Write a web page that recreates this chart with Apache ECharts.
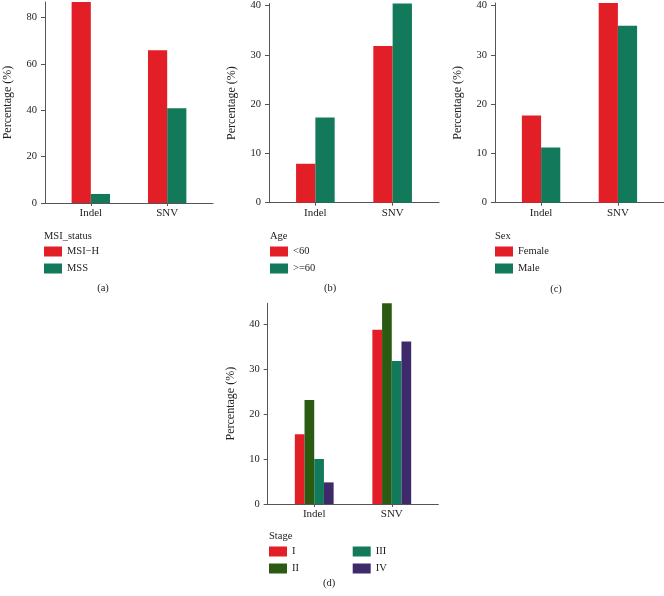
<!DOCTYPE html>
<html><head><meta charset="utf-8">
<script src="https://cdn.jsdelivr.net/npm/echarts@6/dist/echarts.min.js"></script>
<style>html,body{margin:0;padding:0;background:#fff}#c{width:664px;height:596px}</style>
</head><body><div id="c"></div>
<script>
const categories = ['Indel', 'SNV'];
// (a) MSI status
const msiNames = ['MSI\u2212H', 'MSS'];
const msiH = [86.7, 65.9];
const mss = [3.9, 40.9];
// (b) Age
const ageNames = ['<60', '>=60'];
const ageLt60 = [7.9, 31.8];
const ageGe60 = [17.3, 40.4];
// (c) Sex
const sexNames = ['Female', 'Male'];
const female = [17.7, 40.5];
const male = [11.2, 35.9];
// (d) Stage
const stageNames = ['I', 'II', 'III', 'IV'];
const stageI = [15.5, 38.7];
const stageII = [23.1, 44.6];
const stageIII = [10.0, 31.8];
const stageIV = [4.8, 36.1];
const yTicksA = 20, yTicksB = 10, yTicksC = 10, yTicksD = 10;

const RED = '#E21F26', TEAL = '#127A5B', DKGREEN = '#2B5B13', PURPLE = '#3E2A6A';
const FONT = 'Liberation Serif';
const AX = '#555';

const panels = [
  {grid:{left:45,top:2,width:168,height:201}, names:msiNames, data:[msiH,mss], colors:[RED,TEAL], bw:19.2, interval:yTicksA},
  {grid:{left:269,top:2.3,width:170,height:200.4}, names:ageNames, data:[ageLt60,ageGe60], colors:[RED,TEAL], bw:19.3, interval:yTicksB},
  {grid:{left:495,top:2.2,width:169,height:200.5}, names:sexNames, data:[female,male], colors:[RED,TEAL], bw:19.2, interval:yTicksC},
  {grid:{left:267.7,top:303.3,width:170.6,height:200.7}, names:stageNames, data:[stageI,stageII,stageIII,stageIV], colors:[RED,DKGREEN,TEAL,PURPLE], bw:9.7, interval:yTicksD}
];

const grid=[], xAxis=[], yAxis=[], series=[];
panels.forEach((p,i)=>{
  grid.push(p.grid);
  xAxis.push({type:'value', gridIndex:i, min:0.4, max:2.6,
    axisLine:{show:true, lineStyle:{color:AX,width:1}},
    axisTick:{show:true, length:3, customValues:[1,2], lineStyle:{color:AX}},
    axisLabel:{customValues:[1,2], formatter:v=>categories[Math.round(v)-1]||'', fontFamily:FONT, fontSize:11, color:'#222', margin:5},
    splitLine:{show:false}});
  yAxis.push({type:'value', gridIndex:i, min:0, max:'dataMax', interval:p.interval,
    name:'Percentage (%)', nameLocation:'middle', nameGap:31, nameRotate:90,
    nameTextStyle:{fontFamily:FONT, fontSize:12, color:'#222'},
    axisLine:{show:true, lineStyle:{color:AX,width:1}},
    axisTick:{show:true, length:4, lineStyle:{color:AX}},
    axisLabel:{fontFamily:FONT, fontSize:10.5, color:'#222', margin:8, showMaxLabel:false},
    splitLine:{show:false}});
  p.names.forEach((n,k)=>{
    series.push({type:'bar', name:n, xAxisIndex:i, yAxisIndex:i, barWidth:p.bw, barGap:'0%',
      itemStyle:{color:p.colors[k]}, emphasis:{disabled:true},
      data:categories.map((c,j)=>[j+1, p.data[k][j]])});
  });
});

const legStyle = {orient:'vertical', itemWidth:18, itemHeight:10, itemGap:6, icon:'rect',
  textStyle:{fontFamily:FONT, fontSize:10.5, color:'#222'}, selectedMode:false, padding:0};
const legend = [
  Object.assign({left:44, top:246, data:msiNames}, legStyle),
  Object.assign({left:270, top:246, data:ageNames}, legStyle),
  Object.assign({left:495, top:246, data:sexNames}, legStyle),
  Object.assign({left:269, top:546, data:['I','II']}, legStyle),
  Object.assign({left:352.7, top:546, data:['III','IV']}, legStyle)
];

function txt(x,y,t,align){return {type:'text', x:x, y:y, style:{text:t, fontFamily:FONT, fontSize:10.5, fill:'#222', align:align||'left', verticalAlign:'middle'}};}
const graphic = [
  txt(44,236,'MSI_status'), txt(270,236.5,'Age'), txt(495,236,'Sex'), txt(269,536.7,'Stage'),
  txt(103,288,'(a)','center'), txt(330,288,'(b)','center'), txt(556,289,'(c)','center'), txt(329,583,'(d)','center')
];

const chart = echarts.init(document.getElementById('c'), null, {renderer:'canvas'});
chart.setOption({animation:false, backgroundColor:'#fff', grid, xAxis, yAxis, series, legend, graphic});
</script></body></html>
